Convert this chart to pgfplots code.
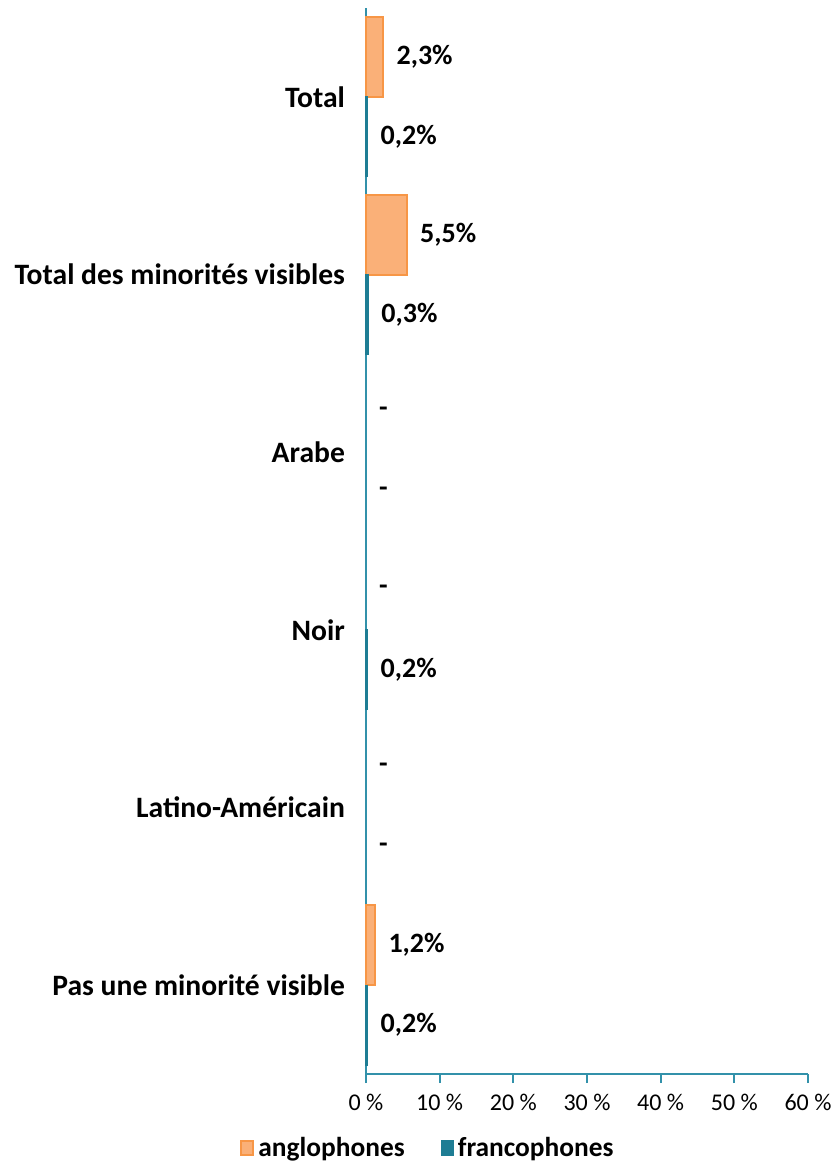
\documentclass[border=0pt]{standalone}
\usepackage{fontspec}
\setmainfont{Carlito}
\usepackage{pgfplots}
\pgfplotsset{compat=1.18}
\definecolor{ang}{RGB}{250,176,120}
\definecolor{angb}{RGB}{247,150,70}
\definecolor{fra}{RGB}{30,125,148}
\definecolor{axc}{RGB}{50,145,170}
\begin{document}
\begin{tikzpicture}
\begin{axis}[
  name=ax, at={(0,0)}, anchor=south west,
  scale only axis, width=221pt, height=533pt,
  /pgf/number format/assume math mode=true,
  xbar, bar width=0.45,
  ymin=-0.5, ymax=5.5,
  xmin=0, xmax=60,
  axis x line=bottom, axis y line=left,
  axis line style={axc, line width=1pt, -},
  xtick={0,10,...,60},
  xticklabels={0 \%,10 \%,20 \%,30 \%,40 \%,50 \%,60 \%},
  x tick style={axc, line width=1pt},
  tick align=outside, major tick length=4.5pt,
  xticklabel style={font=\fontsize{12}{14}\selectfont, yshift=-2pt},
  ytick={0,...,5},
  yticklabels={Pas une minorité visible,Latino-Américain,Noir,Arabe,Total des minorités visibles,Total},
  y tick style={draw=none},
  yticklabel style={font=\fontsize{14.8}{17}\selectfont\bfseries, anchor=east, xshift=-2.5pt},
  every node near coord/.append style={font=\fontsize{14}{16}\selectfont\bfseries, text=black, anchor=west, xshift=3pt},
  legend style={at={(0.1425,-0.0694)}, anchor=center, draw=none, legend columns=2,
    font=\fontsize{13.7}{15}\selectfont\bfseries,
    /tikz/every even column/.append style={column sep=16pt}},
  legend image code/.code={\draw[#1] (0pt,-3.5pt) rectangle (6pt,3.5pt);},
  legend cell align=left,
  clip=false,
]
\addplot[fill=ang, draw=angb, line width=1pt, bar shift=0.225,
  point meta=x, nodes near coords={\pgfmathprintnumber[fixed,fixed zerofill,precision=1,use comma]{\pgfplotspointmeta}\%}]
  coordinates {(2.3,5) (5.5,4) (1.2,0)};
\addlegendentry{anglophones}
\addplot[fill=fra, draw=fra, line width=0.6pt, bar shift=-0.225,
  point meta=x, nodes near coords={\pgfmathprintnumber[fixed,fixed zerofill,precision=1,use comma]{\pgfplotspointmeta}\%}]
  coordinates {(0.2,5) (0.3,4) (0.2,2) (0.2,0)};
\addlegendentry{francophones}
\addplot[forget plot, draw=none, fill=none, bar shift=0.225, point meta=x, nodes near coords={-}]
  coordinates {(0,3) (0,2) (0,1)};
\addplot[forget plot, draw=none, fill=none, bar shift=-0.225, point meta=x, nodes near coords={-}]
  coordinates {(0,3) (0,1)};
\end{axis}
\pgfresetboundingbox
\path (-183pt,-44pt) rectangle (235.5pt,537pt);
\end{tikzpicture}
\end{document}
